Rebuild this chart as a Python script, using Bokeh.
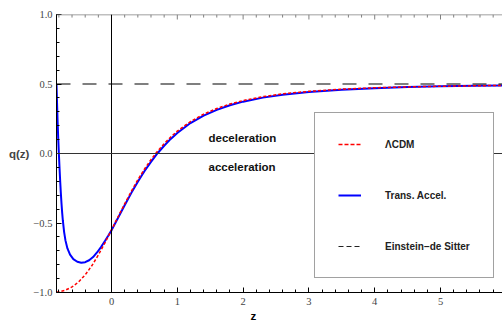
from bokeh.plotting import figure
from bokeh.models import Span, Label, Legend, LegendItem, FixedTicker, LinearAxis, Range1d, Title
from bokeh.embed import file_html
from bokeh.resources import INLINE

# ---- data ----
z_lcdm = [-0.836, -0.8, -0.7, -0.6, -0.5, -0.4, -0.3, -0.2, -0.1, 0.0, 0.1, 0.2, 0.3,
          0.4, 0.5, 0.6, 0.7, 0.8, 0.9, 1.0, 1.2, 1.4, 1.6, 1.8, 2.0, 2.3, 2.6, 3.0,
          3.5, 4.0, 4.5, 5.0, 5.5, 5.95]
q_lcdm = [-0.997, -0.995, -0.983, -0.960, -0.924, -0.873, -0.808, -0.730, -0.643, -0.550,
          -0.455, -0.362, -0.273, -0.189, -0.113, -0.044, 0.017, 0.071, 0.119, 0.161,
          0.230, 0.283, 0.324, 0.356, 0.381, 0.409, 0.429, 0.447, 0.463, 0.473, 0.479,
          0.484, 0.487, 0.490]

z_trans = [-0.836, -0.83, -0.82, -0.81, -0.80, -0.79, -0.78, -0.77, -0.76, -0.75, -0.74,
           -0.72, -0.70, -0.67, -0.63, -0.58, -0.52, -0.46, -0.40, -0.34, -0.28, -0.22,
           -0.16, -0.10, -0.05, 0.0, 0.1, 0.2, 0.3, 0.4, 0.5, 0.6, 0.7, 0.8, 0.9, 1.0,
           1.2, 1.4, 1.6, 1.8, 2.0, 2.3, 2.6, 3.0, 3.5, 4.0, 4.5, 5.0, 5.5, 5.95]
q_trans = [0.50, 0.40, 0.24, 0.11, 0.00, -0.105, -0.20, -0.285, -0.36, -0.425, -0.48,
           -0.565, -0.625, -0.683, -0.728, -0.760, -0.779, -0.786, -0.782, -0.768, -0.745,
           -0.712, -0.673, -0.630, -0.592, -0.553, -0.462, -0.372, -0.285, -0.203, -0.128,
           -0.060, 0.002, 0.056, 0.105, 0.148, 0.219, 0.273, 0.314, 0.347, 0.373, 0.402,
           0.423, 0.443, 0.459, 0.470, 0.478, 0.483, 0.487, 0.489]

q_eds = 0.5

x_ticks = [0, 1, 2, 3, 4, 5]
x_minor = [-0.8, -0.6, -0.4, -0.2] + [i + f for i in range(0, 6) for f in (0.2, 0.4, 0.6, 0.8)]
y_ticks = [-1.0, -0.5, 0.0, 0.5, 1.0]
y_tick_labels = ["\u22121.0", "\u22120.5", "0.0", "0.5", "1.0"]
y_minor = [round(-1.0 + 0.1 * i, 2) for i in range(21)]

series_names = ["\u039bCDM", "Trans. Accel.", "Einstein\u2212de Sitter"]

SANS = "Liberation Sans"
SERIF = "Liberation Serif"

p = figure(width=502, height=324, output_backend="svg", toolbar_location=None,
           x_range=Range1d(-0.836, 5.942), y_range=Range1d(-1.0, 1.0),
           x_axis_location=None, y_axis_location=None,
           min_border_left=56, min_border_right=0, min_border_top=14, min_border_bottom=32)
p.outline_line_color = None
p.grid.visible = False
p.background_fill_color = "white"


def style_axis(ax, ticks, minor, color="black"):
    ax.ticker = FixedTicker(ticks=ticks, minor_ticks=minor)
    ax.major_tick_in = 5
    ax.major_tick_out = 0
    ax.minor_tick_in = 3
    ax.minor_tick_out = 0
    ax.axis_line_color = color
    ax.major_tick_line_color = color
    ax.minor_tick_line_color = color
    ax.major_label_text_font = SERIF
    ax.major_label_text_font_size = "10.5px"
    ax.major_label_text_color = "#444444"


left = LinearAxis()
style_axis(left, y_ticks, y_minor)
left.major_label_overrides = {t: s for t, s in zip(y_ticks, y_tick_labels)}
left.major_label_standoff = 4
left.axis_label = "q(z)"
left.axis_label_orientation = "horizontal"
left.axis_label_text_font = SANS
left.axis_label_text_font_style = "bold"
left.axis_label_text_font_size = "11.5px"
left.axis_label_standoff = 1
p.add_layout(left, "left")

bottom = LinearAxis()
style_axis(bottom, x_ticks, x_minor)
bottom.major_label_standoff = 5
p.add_layout(bottom, "below")

# x axis title, placed like the reference (left of the frame centre)
p.add_layout(Title(text="z", align="left", offset=194, standoff=0,
                   text_font=SANS, text_font_style="bold", text_font_size="11.5px",
                   text_color="black"), "below")

# top frame edge with inward ticks
p.add_layout(Span(location=1.0, dimension="width", line_color="#808080", line_width=1.5))
n_maj = len(x_ticks)
n_min = len(x_minor)
p.segment(x0=x_ticks, y0=[1.0] * n_maj, x1=x_ticks, y1=[1.0 - 0.036] * n_maj,
          line_color="#808080", line_width=1)
p.segment(x0=x_minor, y0=[1.0] * n_min, x1=x_minor, y1=[1.0 - 0.022] * n_min,
          line_color="#808080", line_width=1)

# reference lines
p.add_layout(Span(location=0, dimension="height", line_color="black", line_width=1))
p.add_layout(Span(location=0, dimension="width", line_color="#333333", line_width=1))
p.add_layout(Span(location=q_eds, dimension="width", line_color="black", line_width=1.2,
                  line_dash="14 12"))

# curves
p.line(z_trans, q_trans, line_color="blue", line_width=2)
p.line(z_lcdm, q_lcdm, line_color="red", line_width=1.5, line_dash="3 2")

# legend proxies (single point -> draws nothing in the plot, only in the legend)
r1 = p.line(z_lcdm[:1], q_lcdm[:1], line_color="red", line_width=1.5, line_dash="4 2")
r2 = p.line(z_trans[:1], q_trans[:1], line_color="blue", line_width=2)
r3 = p.line(z_lcdm[:1], [q_eds], line_color="#222222", line_width=1, line_dash="5 3")
legend = Legend(items=[LegendItem(label=series_names[0], renderers=[r1]),
                       LegendItem(label=series_names[1], renderers=[r2]),
                       LegendItem(label=series_names[2], renderers=[r3])],
                location=(258, 14), margin=0, padding=23, spacing=35,
                glyph_width=23, glyph_height=16, label_height=16, label_standoff=24,
                label_text_font=SANS, label_text_font_style="bold",
                label_text_font_size="10px", label_text_color="#222222",
                border_line_color="#444444", border_line_width=1,
                background_fill_color="white", background_fill_alpha=1)
p.add_layout(legend)

# annotations
for txt, yv in (("deceleration", 0.108), ("acceleration", -0.10)):
    p.add_layout(Label(x=1.474, y=yv, text=txt, text_baseline="middle", text_align="left",
                       text_font=SANS, text_font_style="bold", text_font_size="11.5px",
                       text_color="#111111"))

open("out.html", "w").write(file_html(p, INLINE))
